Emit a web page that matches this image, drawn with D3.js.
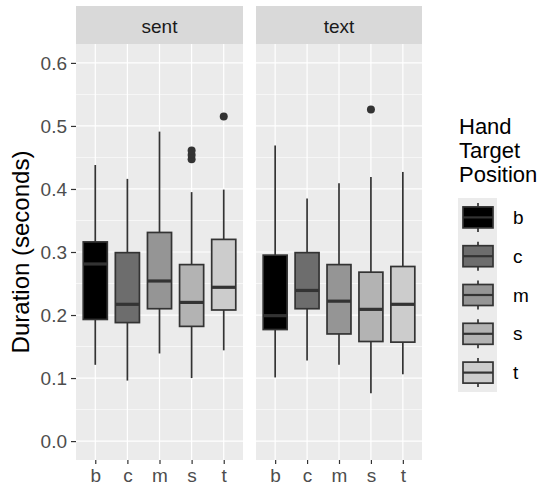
<!DOCTYPE html>
<html>
<head>
<meta charset="utf-8">
<script src="https://cdn.jsdelivr.net/npm/d3@7"></script>
<style>
  body { margin: 0; background: #fff; }
  text { font-family: Arial, "Liberation Sans", sans-serif; }
</style>
</head>
<body>
<div id="chart"></div>
<script>
// categories and panels
var positions = ["b", "c", "m", "s", "t"];
var panels = ["sent", "text"];
var fills = ["#000000", "#6D6D6D", "#959595", "#B3B3B3", "#CCCCCC"];
var yTicks = [0.0, 0.1, 0.2, 0.3, 0.4, 0.5, 0.6];

// box stats per panel: [lower whisker, q1, median, q3, upper whisker]
var sentStats = [
  [0.121, 0.193, 0.281, 0.316, 0.438],
  [0.096, 0.188, 0.217, 0.299, 0.416],
  [0.139, 0.210, 0.254, 0.331, 0.491],
  [0.100, 0.182, 0.220, 0.280, 0.395],
  [0.144, 0.208, 0.244, 0.320, 0.399]
];
var textStats = [
  [0.101, 0.177, 0.199, 0.295, 0.469],
  [0.128, 0.210, 0.239, 0.299, 0.385],
  [0.121, 0.170, 0.222, 0.280, 0.409],
  [0.076, 0.158, 0.209, 0.268, 0.419],
  [0.106, 0.157, 0.217, 0.277, 0.427]
];
var sentOutliers = [[], [], [], [0.447, 0.454, 0.461], [0.515]];
var textOutliers = [[], [], [], [0.526], []];

var stats = [sentStats, textStats];
var outliers = [sentOutliers, textOutliers];

var width = 545, height = 490;
var margin = { top: 44, bottom: 460 };
var panelX = [[76, 243], [256, 422]];
var font = "Arial, 'Liberation Sans', sans-serif";

var svg = d3.select("#chart")
  .append("svg")
  .attr("width", width)
  .attr("height", height);

var y = d3.scaleLinear().domain([-0.03, 0.63]).range([margin.bottom, margin.top]);

panels.forEach(function (p, pi) {
  var x0 = panelX[pi][0], x1 = panelX[pi][1];
  var x = d3.scalePoint().domain(positions).range([x0, x1]).padding(0.6);
  var bw = x.step() * 0.75;

  var g = svg.append("g");

  // panel background
  g.append("rect")
    .attr("x", x0).attr("y", margin.top)
    .attr("width", x1 - x0).attr("height", margin.bottom - margin.top)
    .attr("fill", "#EBEBEB");

  // strip
  g.append("rect")
    .attr("x", x0).attr("y", 6)
    .attr("width", x1 - x0).attr("height", margin.top - 6)
    .attr("fill", "#D9D9D9");
  g.append("text")
    .attr("x", (x0 + x1) / 2).attr("y", 26)
    .attr("text-anchor", "middle").attr("dominant-baseline", "central")
    .attr("font-size", 19).attr("fill", "#1A1A1A")
    .text(p);

  // minor grid
  var minor = d3.range(-0.05, 0.65, 0.1).filter(function (v) { return y(v) > margin.top && y(v) < margin.bottom; });
  g.selectAll(".minor").data(minor).enter().append("line")
    .attr("x1", x0).attr("x2", x1)
    .attr("y1", function (d) { return y(d); }).attr("y2", function (d) { return y(d); })
    .attr("stroke", "#fff").attr("stroke-width", 0.6);

  // major grid
  g.selectAll(".majorY").data(yTicks).enter().append("line")
    .attr("x1", x0).attr("x2", x1)
    .attr("y1", function (d) { return y(d); }).attr("y2", function (d) { return y(d); })
    .attr("stroke", "#fff").attr("stroke-width", 1.2);
  g.selectAll(".majorX").data(positions).enter().append("line")
    .attr("x1", function (d) { return x(d); }).attr("x2", function (d) { return x(d); })
    .attr("y1", margin.top).attr("y2", margin.bottom)
    .attr("stroke", "#fff").attr("stroke-width", 1.2);

  // boxes
  positions.forEach(function (c, ci) {
    var s = stats[pi][ci];
    var cx = x(c);
    g.append("line")
      .attr("x1", cx).attr("x2", cx)
      .attr("y1", y(s[0])).attr("y2", y(s[1]))
      .attr("stroke", "#333").attr("stroke-width", 1.7);
    g.append("line")
      .attr("x1", cx).attr("x2", cx)
      .attr("y1", y(s[3])).attr("y2", y(s[4]))
      .attr("stroke", "#333").attr("stroke-width", 1.7);
    g.append("rect")
      .attr("x", cx - bw / 2).attr("y", y(s[3]))
      .attr("width", bw).attr("height", y(s[1]) - y(s[3]))
      .attr("fill", fills[ci])
      .attr("stroke", "#333").attr("stroke-width", 1.7);
    g.append("line")
      .attr("x1", cx - bw / 2).attr("x2", cx + bw / 2)
      .attr("y1", y(s[2])).attr("y2", y(s[2]))
      .attr("stroke", "#333").attr("stroke-width", 3.2);
    g.selectAll(null).data(outliers[pi][ci]).enter().append("circle")
      .attr("cx", cx).attr("cy", function (d) { return y(d); })
      .attr("r", 4).attr("fill", "#333");
  });

  // x axis
  var xAxis = g.append("g")
    .attr("transform", "translate(0," + margin.bottom + ")")
    .call(d3.axisBottom(x).tickSize(4).tickPadding(5));
  xAxis.select(".domain").remove();
  xAxis.selectAll("line").attr("stroke", "#333").attr("stroke-width", 1.2);
  xAxis.selectAll("text").attr("fill", "#4D4D4D").attr("font-size", 19)
    .style("font-family", font);
});

// y axis
var yAxis = svg.append("g")
  .attr("transform", "translate(" + panelX[0][0] + ",0)")
  .call(d3.axisLeft(y).tickValues(yTicks).tickFormat(d3.format(".1f")).tickSize(5).tickPadding(4));
yAxis.select(".domain").remove();
yAxis.selectAll("line").attr("stroke", "#333").attr("stroke-width", 1.2);
yAxis.selectAll("text").attr("fill", "#4D4D4D").attr("font-size", 19)
  .style("font-family", font);

svg.append("text")
  .attr("transform", "translate(20," + ((margin.top + margin.bottom) / 2) + ") rotate(-90)")
  .attr("text-anchor", "middle").attr("dominant-baseline", "central")
  .attr("font-size", 24).attr("fill", "#000")
  .text("Duration (seconds)");

// legend
var legendTitle = ["Hand", "Target", "Position"];
var legend = svg.append("g");
legend.selectAll(".lt").data(legendTitle).enter().append("text")
  .attr("x", 459).attr("y", function (d, i) { return 134 + i * 24; })
  .attr("font-size", 22).attr("fill", "#000")
  .text(function (d) { return d; });

var keyY = d3.scaleBand().domain(positions).range([198, 392]);
legend.append("rect")
  .attr("x", 458).attr("y", 198)
  .attr("width", 39).attr("height", 194)
  .attr("fill", "#EBEBEB");
positions.forEach(function (c, ci) {
  var cy = keyY(c) + keyY.bandwidth() / 2;
  legend.append("line")
    .attr("x1", 478).attr("x2", 478)
    .attr("y1", cy - 14.5).attr("y2", cy + 14.5)
    .attr("stroke", "#333").attr("stroke-width", 1.7);
  legend.append("rect")
    .attr("x", 463).attr("y", cy - 10.5)
    .attr("width", 30).attr("height", 21)
    .attr("fill", fills[ci]).attr("stroke", "#333").attr("stroke-width", 1.7);
  legend.append("line")
    .attr("x1", 463).attr("x2", 493)
    .attr("y1", cy).attr("y2", cy)
    .attr("stroke", "#333").attr("stroke-width", 2.2);
  legend.append("text")
    .attr("x", 513).attr("y", cy)
    .attr("dominant-baseline", "central")
    .attr("font-size", 19).attr("fill", "#000")
    .text(c);
});
</script>
</body>
</html>
